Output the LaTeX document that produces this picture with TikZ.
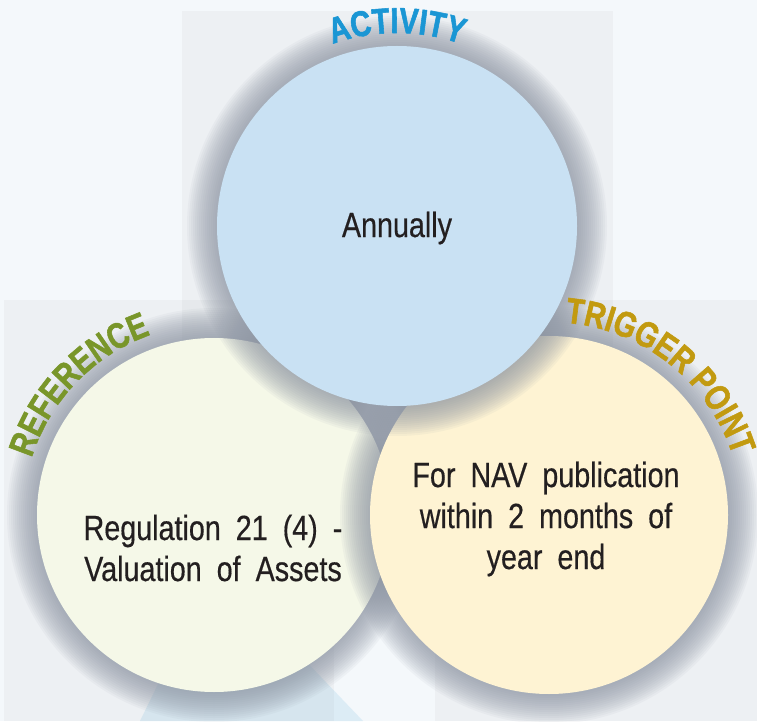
\documentclass[tikz,border=0pt]{standalone}
\usepackage{fontspec}
\usetikzlibrary{decorations.text}
\newfontfamily\bodyfont[FakeStretch=0.82, FakeBold=0.4]{Liberation Sans}
\newfontfamily\labelfont[FakeStretch=0.8, FakeBold=1.5]{Liberation Sans Bold}
\definecolor{bgcol}{HTML}{F4F8FB}
\definecolor{actblue}{HTML}{1A96D4}
\definecolor{refgreen}{HTML}{79962A}
\definecolor{trigold}{HTML}{C29A10}
\definecolor{actfill}{HTML}{C9E1F3}
\definecolor{reffill}{HTML}{F5F8E8}
\definecolor{trifill}{HTML}{FEF3D3}
\definecolor{halogray}{HTML}{8C94A2}
\definecolor{inkdark}{HTML}{231F20}
\definecolor{streakblue}{HTML}{CCE4F2}
\newcommand\widespaces{\spaceskip=15pt\relax}

\begin{document}
\begin{tikzpicture}[x=1pt, y=1pt,
  bubble/.style={circle, draw=none, inner sep=0pt},
  halo/.style={fill=halogray, opacity=0.07},
  panel/.style={fill=gray, opacity=0.06},
  bodytext/.style={font=\bodyfont\fontsize{35}{41}\selectfont, text=inkdark, align=center, execute at begin node=\widespaces},
  arclabel/.style={decorate, decoration={text along path, text align=center, text={|\labelfont\fontsize{36}{40}\selectfont|#1}}}]
\useasboundingbox (0,0) rectangle (757,721);

% background
\fill[bgcol] (0,0) rectangle (757,721);
\fill[streakblue, opacity=0.6] (140,0) -- (160,41) -- (300,66) -- (363,0) -- cycle;
\fill[panel] (182,280) rectangle (613,710);
\fill[panel] (4,0) rectangle (334,421);
\fill[panel] (435,0) rectangle (757,421);

% REFERENCE circle
\foreach \d in {2,4,...,30}
  \fill[halo] (214,206) circle[radius=177+\d];
\node[bubble, fill=reffill, minimum size=354pt] (ref) at (214,206) {};

% TRIGGER POINT circle
\foreach \d in {2,4,...,30}
  \fill[halo] (549,206) circle[radius=179+\d];
\node[bubble, fill=trifill, minimum size=358pt] (trig) at (549,206) {};

% ACTIVITY circle
\foreach \d in {2,4,...,30}
  \fill[halo] (397,495) circle[radius=180+\d];
\node[bubble, fill=actfill, minimum size=360pt] (act) at (397,495) {};

% curved headings
\path[arclabel=ACTIVITY, decoration={text color=actblue}]
  ([shift={(120:193)}]act.center) arc[start angle=120, end angle=60, radius=193];
\path[arclabel=REFERENCE, decoration={text color=refgreen}]
  ([shift={(171:191)}]ref.center) arc[start angle=171, end angle=101, radius=191];
\path[arclabel=TRIGGER POINT, decoration={text color=trigold}]
  ([shift={(95:193)}]trig.center) arc[start angle=95, end angle=8, radius=193];

% texts in the circles
\node[bodytext] (acttext) at ([yshift=-2pt]act.center) {Annually};
\node[bodytext] (reftext) at ([xshift=-1pt, yshift=-33pt]ref.center) {Regulation 21 (4) -\\Valuation of Assets};
\node[bodytext] (trigtext) at ([xshift=-3pt, yshift=-4pt]trig.center) {For NAV publication\\within 2 months of\\year end};

\end{tikzpicture}
\end{document}
